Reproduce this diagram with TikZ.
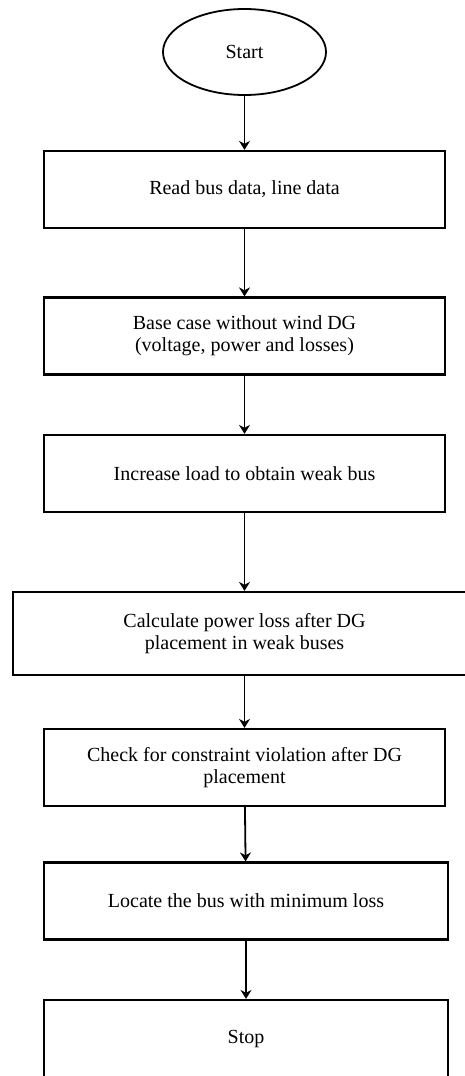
\documentclass[tikz,border=0pt]{standalone}
\usepackage{fontspec}
\setmainfont{Liberation Serif}
\usepackage{tikz}
\usetikzlibrary{shapes.geometric, arrows.meta, positioning}
\tikzset{
    terminal/.style={ellipse, minimum width=163pt, minimum height=86pt, text centered, draw, line width=1.8pt, inner sep=0pt},
    stepbox/.style={rectangle, minimum width=401pt, minimum height=77pt, text centered, draw, line width=2.2pt, align=center},
    flow/.style={->, line width=1.8pt, >={Stealth[length=9pt,width=11pt]}}
}

\begin{document}
\begin{tikzpicture}[
    x=1pt, y=-1pt,
    font=\fontsize{20}{22}\selectfont,
    widebox/.style={stepbox, minimum width=463pt, minimum height=83pt}
]
    \useasboundingbox (0,0) rectangle (465,1076);
    \clip (0,0) rectangle (465,1076);

    % Start
    \node[terminal] (start) at (244.5,52) {Start};

    % Process steps
    \node[stepbox] (read) at (244.5,189.5) {Read bus data, line data};
    \node[stepbox] (base) at (244.5,336) {Base case without wind DG\\ (voltage, power and losses)};
    \node[stepbox] (load) at (244.5,473.5) {Increase load to obtain weak bus};
    \node[widebox] (calc) at (244.5,633.5) {Calculate power loss after DG\\ placement in weak buses};
    \node[stepbox] (check) at (244.5,767.5) {Check for constraint violation after DG\\ placement};
    \node[stepbox, minimum width=404pt] (locate) at (246,901) {Locate the bus with minimum loss};

    % Stop
    \node[stepbox, minimum width=404pt] (stop) at (246,1038.5) {Stop};

    % Connections
    \draw[flow] (start) -- (read);
    \draw[flow] (read) -- (base);
    \draw[flow] (base) -- (load);
    \draw[flow] (load) -- (calc);
    \draw[flow] (calc) -- (check);
    \draw[flow] (check) -- (locate);
    \draw[flow] (locate) -- (stop);
\end{tikzpicture}
\end{document}
